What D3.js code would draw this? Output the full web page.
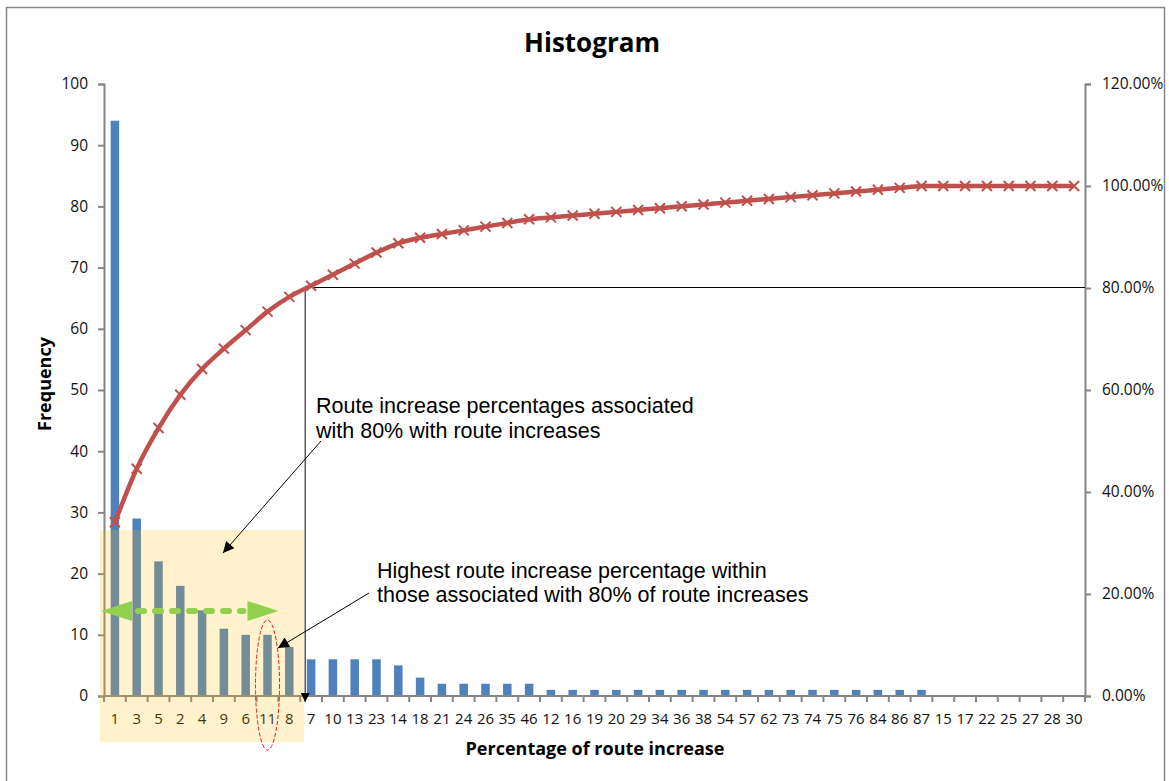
<!DOCTYPE html>
<html>
<head>
<meta charset="utf-8">
<script src="https://cdn.jsdelivr.net/npm/d3@7"></script>
<style>
  html, body { margin: 0; padding: 0; background: #fff; }
  svg { display: block; }
  .calib { font-family: "Open Sans", Lato, sans-serif; }
  .note { font-family: "Liberation Sans", Arial, sans-serif; }
</style>
</head>
<body>
<svg id="chart" width="1169" height="781"></svg>
<script>
// Route increase percentages (categories, in Pareto order) and how often each occurs
const categories = ["1","3","5","2","4","9","6","11","8","7","10","13","23","14","18","21","24","26","35","46",
  "12","16","19","20","29","34","36","38","54","57","62","73","74","75","76","84","86","87",
  "15","17","22","25","27","28","30"];
const frequency = [94,29,22,18,14,11,10,10,8,6,6,6,6,5,3,2,2,2,2,2,
  1,1,1,1,1,1,1,1,1,1,1,1,1,1,1,1,1,1,
  0,0,0,0,0,0,0];
const frequencyTicks = [0,10,20,30,40,50,60,70,80,90,100];
const cumulativeTicks = [0,0.2,0.4,0.6,0.8,1.0,1.2];
const cutoffShare = 0.8;          // 80% reference line
const cutoffCount = 9;            // categories inside the 80% group
const highlighted = "11";

// cumulative share of all route increases
const total = d3.sum(frequency);
const cumulative = Array.from(d3.cumsum(frequency), v => v / total);

const svg = d3.select("#chart");
const plot = { left: 104, right: 1085, top: 84, bottom: 696 };
const axisGrey = "#868686";

// outer chart frame
svg.append("rect").attr("x", 6.5).attr("y", 7.5).attr("width", 1158).attr("height", 800)
  .attr("fill", "none").attr("stroke", axisGrey).attr("stroke-width", 1.5);

const x = d3.scaleBand().domain(categories).range([plot.left, plot.right])
  .paddingInner(0.61).paddingOuter(0.305);
const step = x.step();
const boundary = i => plot.left + i * step;
const cx = c => x(c) + x.bandwidth() / 2;

const yL = d3.scaleLinear().domain([0, 100]).range([plot.bottom, plot.top]);
const yR = d3.scaleLinear().domain([0, 1.2]).range([plot.bottom, plot.top]);

// title
svg.append("text").attr("class", "calib").attr("x", 592).attr("y", 52)
  .attr("text-anchor", "middle").attr("font-size", 26).attr("font-weight", 700)
  .text("Histogram");

// frequency bars
svg.append("g").selectAll("rect").data(categories).join("rect")
  .attr("x", d => x(d)).attr("width", x.bandwidth())
  .attr("y", (d, i) => yL(frequency[i]))
  .attr("height", (d, i) => yL(0) - yL(frequency[i]))
  .attr("fill", "#4f81bd");

// left axis
const gL = svg.append("g").attr("transform", `translate(${plot.left},0)`)
  .call(d3.axisLeft(yL).tickValues(frequencyTicks).tickSize(6).tickPadding(10));
// right axis
const gR = svg.append("g").attr("transform", `translate(${plot.right},0)`)
  .call(d3.axisRight(yR).tickValues(cumulativeTicks).tickSize(6).tickPadding(11)
    .tickFormat(d3.format(".2%")));
[gL, gR].forEach(g => {
  g.select(".domain").attr("stroke", axisGrey).attr("stroke-width", 2);
  g.selectAll(".tick line").attr("stroke", axisGrey).attr("stroke-width", 2);
  g.selectAll(".tick text").attr("class", "calib").attr("font-size", 15.5).attr("fill", "#111");
});

// bottom axis: labels centred on bars, ticks on category boundaries
const gB = svg.append("g").attr("transform", `translate(0,${plot.bottom})`)
  .call(d3.axisBottom(x).tickSize(0).tickPadding(17));
gB.select(".domain").remove();
gB.selectAll(".tick text").attr("class", "calib").attr("font-size", 15).attr("fill", "#111");
svg.append("line").attr("x1", plot.left).attr("x2", plot.right)
  .attr("y1", plot.bottom).attr("y2", plot.bottom)
  .attr("stroke", axisGrey).attr("stroke-width", 2);
svg.append("g").selectAll("line").data(d3.range(categories.length + 1)).join("line")
  .attr("x1", i => boundary(i)).attr("x2", i => boundary(i))
  .attr("y1", plot.bottom).attr("y2", plot.bottom + 6)
  .attr("stroke", axisGrey).attr("stroke-width", 2);

// axis titles
svg.append("text").attr("class", "calib")
  .attr("transform", "translate(51,384) rotate(-90)")
  .attr("text-anchor", "middle").attr("font-size", 18).attr("font-weight", 700)
  .text("Frequency");
svg.append("text").attr("class", "calib").attr("x", 595).attr("y", 755)
  .attr("text-anchor", "middle").attr("font-size", 18).attr("font-weight", 700)
  .text("Percentage of route increase");

// shaded block marking the 80% group
const shadeRight = boundary(cutoffCount) + 4;
svg.append("rect").attr("x", plot.left - 4).attr("y", 530)
  .attr("width", shadeRight - (plot.left - 4)).attr("height", 212)
  .attr("fill", "#ffc000").attr("opacity", 0.2);

// 80% guide lines
const cutX = shadeRight + 1;
const defs = svg.append("defs");
defs.append("marker").attr("id", "head").attr("viewBox", "0 0 10 10")
  .attr("refX", 10).attr("refY", 5).attr("markerWidth", 14).attr("markerHeight", 11)
  .attr("markerUnits", "userSpaceOnUse").attr("orient", "auto")
  .append("path").attr("d", "M0,0L10,5L0,10Z").attr("fill", "#000");
defs.append("marker").attr("id", "headSmall").attr("viewBox", "0 0 10 10")
  .attr("refX", 10).attr("refY", 5).attr("markerWidth", 11).attr("markerHeight", 9)
  .attr("markerUnits", "userSpaceOnUse").attr("orient", "auto")
  .append("path").attr("d", "M0,0L10,5L0,10Z").attr("fill", "#000");

svg.append("line").attr("x1", cutX).attr("x2", plot.right)
  .attr("y1", yR(cutoffShare) - 0.5).attr("y2", yR(cutoffShare) - 0.5)
  .attr("stroke", "#000").attr("stroke-width", 1);
svg.append("line").attr("x1", cutX).attr("x2", cutX)
  .attr("y1", yR(cutoffShare)).attr("y2", plot.bottom + 6)
  .attr("stroke", "#333").attr("stroke-width", 1.2).attr("marker-end", "url(#headSmall)");

// cumulative percentage line
const line = d3.line().x((d, i) => cx(categories[i])).y(d => yR(d))
  .curve(d3.curveCardinal.tension(0));
svg.append("path").datum(cumulative).attr("d", line)
  .attr("fill", "none").attr("stroke", "#c0504d").attr("stroke-width", 4.5)
  .attr("stroke-linejoin", "round");
const m = 5;
svg.append("g").selectAll("path").data(cumulative).join("path")
  .attr("d", (d, i) => {
    const px = cx(categories[i]), py = yR(d);
    return `M${px - m},${py - m}L${px + m},${py + m}M${px - m},${py + m}L${px + m},${py - m}`;
  })
  .attr("stroke", "#c0504d").attr("stroke-width", 2).attr("fill", "none");

// green double arrow spanning the 80% group
const gy = 611;
const gx0 = plot.left - 3, gx1 = cx(highlighted) + 11, head = 31, half = 10;
svg.append("line").attr("x1", gx0 + head + 6).attr("x2", gx1 - head - 4)
  .attr("y1", gy).attr("y2", gy)
  .attr("stroke", "#92d050").attr("stroke-width", 6).attr("stroke-linecap", "round")
  .attr("stroke-dasharray", "6,11");
svg.append("path").attr("d", `M${gx0},${gy}L${gx0 + head},${gy - half}L${gx0 + head},${gy + half}Z`)
  .attr("fill", "#92d050");
svg.append("path").attr("d", `M${gx1},${gy}L${gx1 - head},${gy - half}L${gx1 - head},${gy + half}Z`)
  .attr("fill", "#92d050");

// dashed ellipse around the highest percentage inside the group
svg.append("ellipse").attr("cx", cx(highlighted)).attr("cy", 685)
  .attr("rx", 12).attr("ry", 65)
  .attr("fill", "none").attr("stroke", "#e0201a").attr("stroke-width", 1)
  .attr("stroke-dasharray", "4,2");

// annotation arrows
svg.append("line").attr("x1", 321).attr("y1", 441).attr("x2", 223).attr("y2", 553)
  .attr("stroke", "#000").attr("stroke-width", 1).attr("marker-end", "url(#head)");
svg.append("line").attr("x1", 369).attr("y1", 593).attr("x2", 278).attr("y2", 648)
  .attr("stroke", "#000").attr("stroke-width", 1).attr("marker-end", "url(#head)");

// annotation text
const note1 = svg.append("text").attr("class", "note").attr("font-size", 21.5).attr("fill", "#000");
note1.append("tspan").attr("x", 316).attr("y", 413).text("Route increase percentages associated");
note1.append("tspan").attr("x", 316).attr("y", 438).text("with 80% with route increases");
const note2 = svg.append("text").attr("class", "note").attr("font-size", 21.5).attr("fill", "#000");
note2.append("tspan").attr("x", 377).attr("y", 578).text("Highest route increase percentage within");
note2.append("tspan").attr("x", 377).attr("y", 602).text("those associated with 80% of route increases");
</script>
</body>
</html>
